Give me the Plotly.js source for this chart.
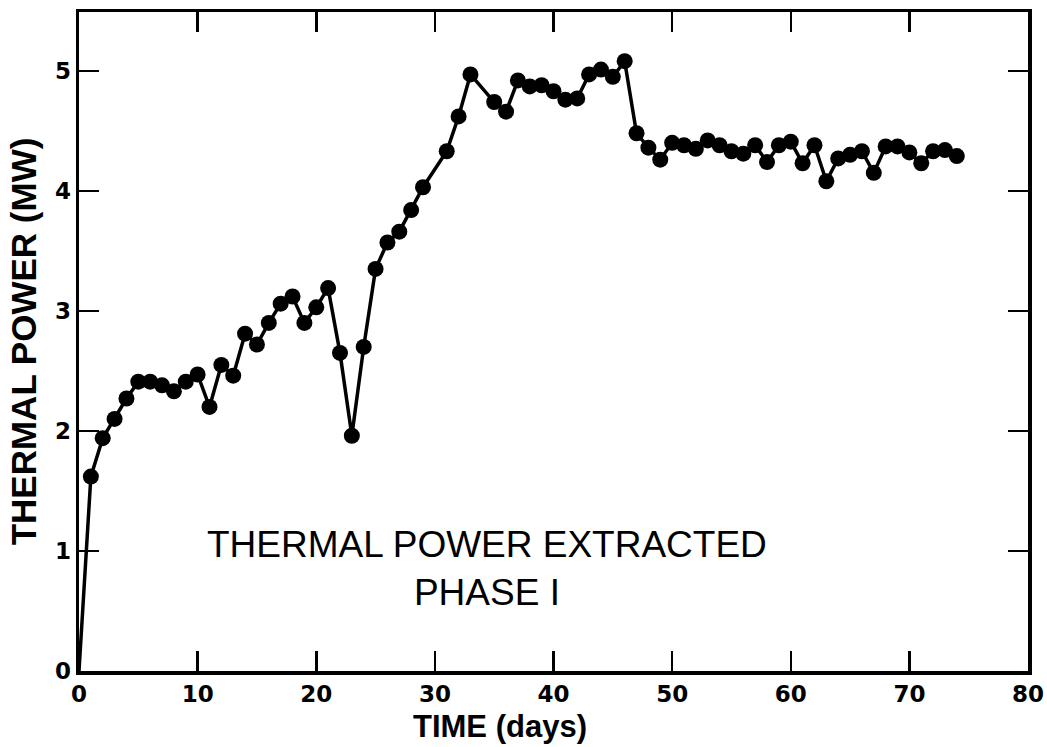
<!DOCTYPE html>
<html>
<head>
<meta charset="utf-8">
<script src="https://cdn.plot.ly/plotly-3.0.1.min.js"></script>
<style>html,body{margin:0;padding:0;background:#fff;}</style>
</head>
<body>
<div id="chart" style="width:1047px;height:747px;"></div>
<script>
const days = [0,1,2,3,4,5,6,7,8,9,10,11,12,13,14,15,16,17,18,19,20,21,22,23,24,25,26,27,28,29,
  31,32,33,35,36,37,38,39,40,41,42,43,44,45,46,47,48,49,50,51,52,53,54,55,56,57,58,59,60,
  61,62,63,64,65,66,67,68,69,70,71,72,73,74];
const powerMW = [0,1.62,1.94,2.10,2.27,2.41,2.41,2.38,2.33,2.41,2.47,2.20,2.55,2.46,2.81,2.72,2.90,3.06,3.12,2.90,3.03,3.19,2.65,1.96,2.70,3.35,3.57,3.66,3.84,4.03,
  4.33,4.62,4.97,4.74,4.66,4.92,4.87,4.88,4.83,4.76,4.77,4.97,5.01,4.95,5.08,4.48,4.36,4.26,4.40,4.38,4.35,4.42,4.38,4.33,4.31,4.38,4.24,4.38,4.41,
  4.23,4.38,4.08,4.27,4.30,4.33,4.15,4.37,4.37,4.32,4.23,4.33,4.34,4.29];
const xTicks = [0,10,20,30,40,50,60,70,80];
const yTicks = [0,1,2,3,4,5];
const xTitle = 'TIME (days)';
const yTitle = 'THERMAL POWER (MW)';
const noteText = 'THERMAL POWER EXTRACTED<br>PHASE I';

const trace = {
  x: days, y: powerMW, type: 'scatter', mode: 'lines+markers',
  line: {color: '#000', width: 3.5},
  marker: {color: '#000', opacity: 1, size: days.map(d => d === 0 ? 0 : 16),
           line: {color: '#000', width: 0}},
  hoverinfo: 'x+y'
};

const axisCommon = {
  showgrid: false, zeroline: false, showline: true, linecolor: '#000', linewidth: 3.5,
  mirror: 'ticks', ticks: 'inside', ticklen: 20, tickwidth: 2.5, tickcolor: '#000',
  tickfont: {family: 'DejaVu Sans, sans-serif', size: 23, color: '#000', weight: 'bold'}
};

const layout = {
  width: 1047, height: 747,
  margin: {l: 79, r: 19, t: 12, b: 76},
  paper_bgcolor: '#fff', plot_bgcolor: '#fff',
  showlegend: false,
  xaxis: Object.assign({}, axisCommon, {
    range: [0, 80], tickvals: xTicks, ticktext: xTicks.map(String)
  }),
  yaxis: Object.assign({}, axisCommon, {
    range: [0, 5.49], tickvals: yTicks, ticktext: yTicks.map(String),
    title: {text: yTitle, font: {family: 'Liberation Sans, Arial, sans-serif', size: 35, color: '#000', weight: 'bold'}, standoff: 8}
  }),
  annotations: [
    {x: 34.4, y: 0.85, xref: 'x', yref: 'y', text: noteText, showarrow: false,
     font: {family: 'Liberation Sans, Arial, sans-serif', size: 37, color: '#000'}, align: 'center'},
    {x: 35.5, y: -0.0835, xref: 'x', yref: 'paper', yanchor: 'middle', text: xTitle, showarrow: false,
     font: {family: 'Liberation Sans, Arial, sans-serif', size: 31, color: '#000', weight: 'bold'}}
  ]
};

Plotly.newPlot('chart', [trace], layout, {displayModeBar: false, staticPlot: true});
</script>
</body>
</html>
